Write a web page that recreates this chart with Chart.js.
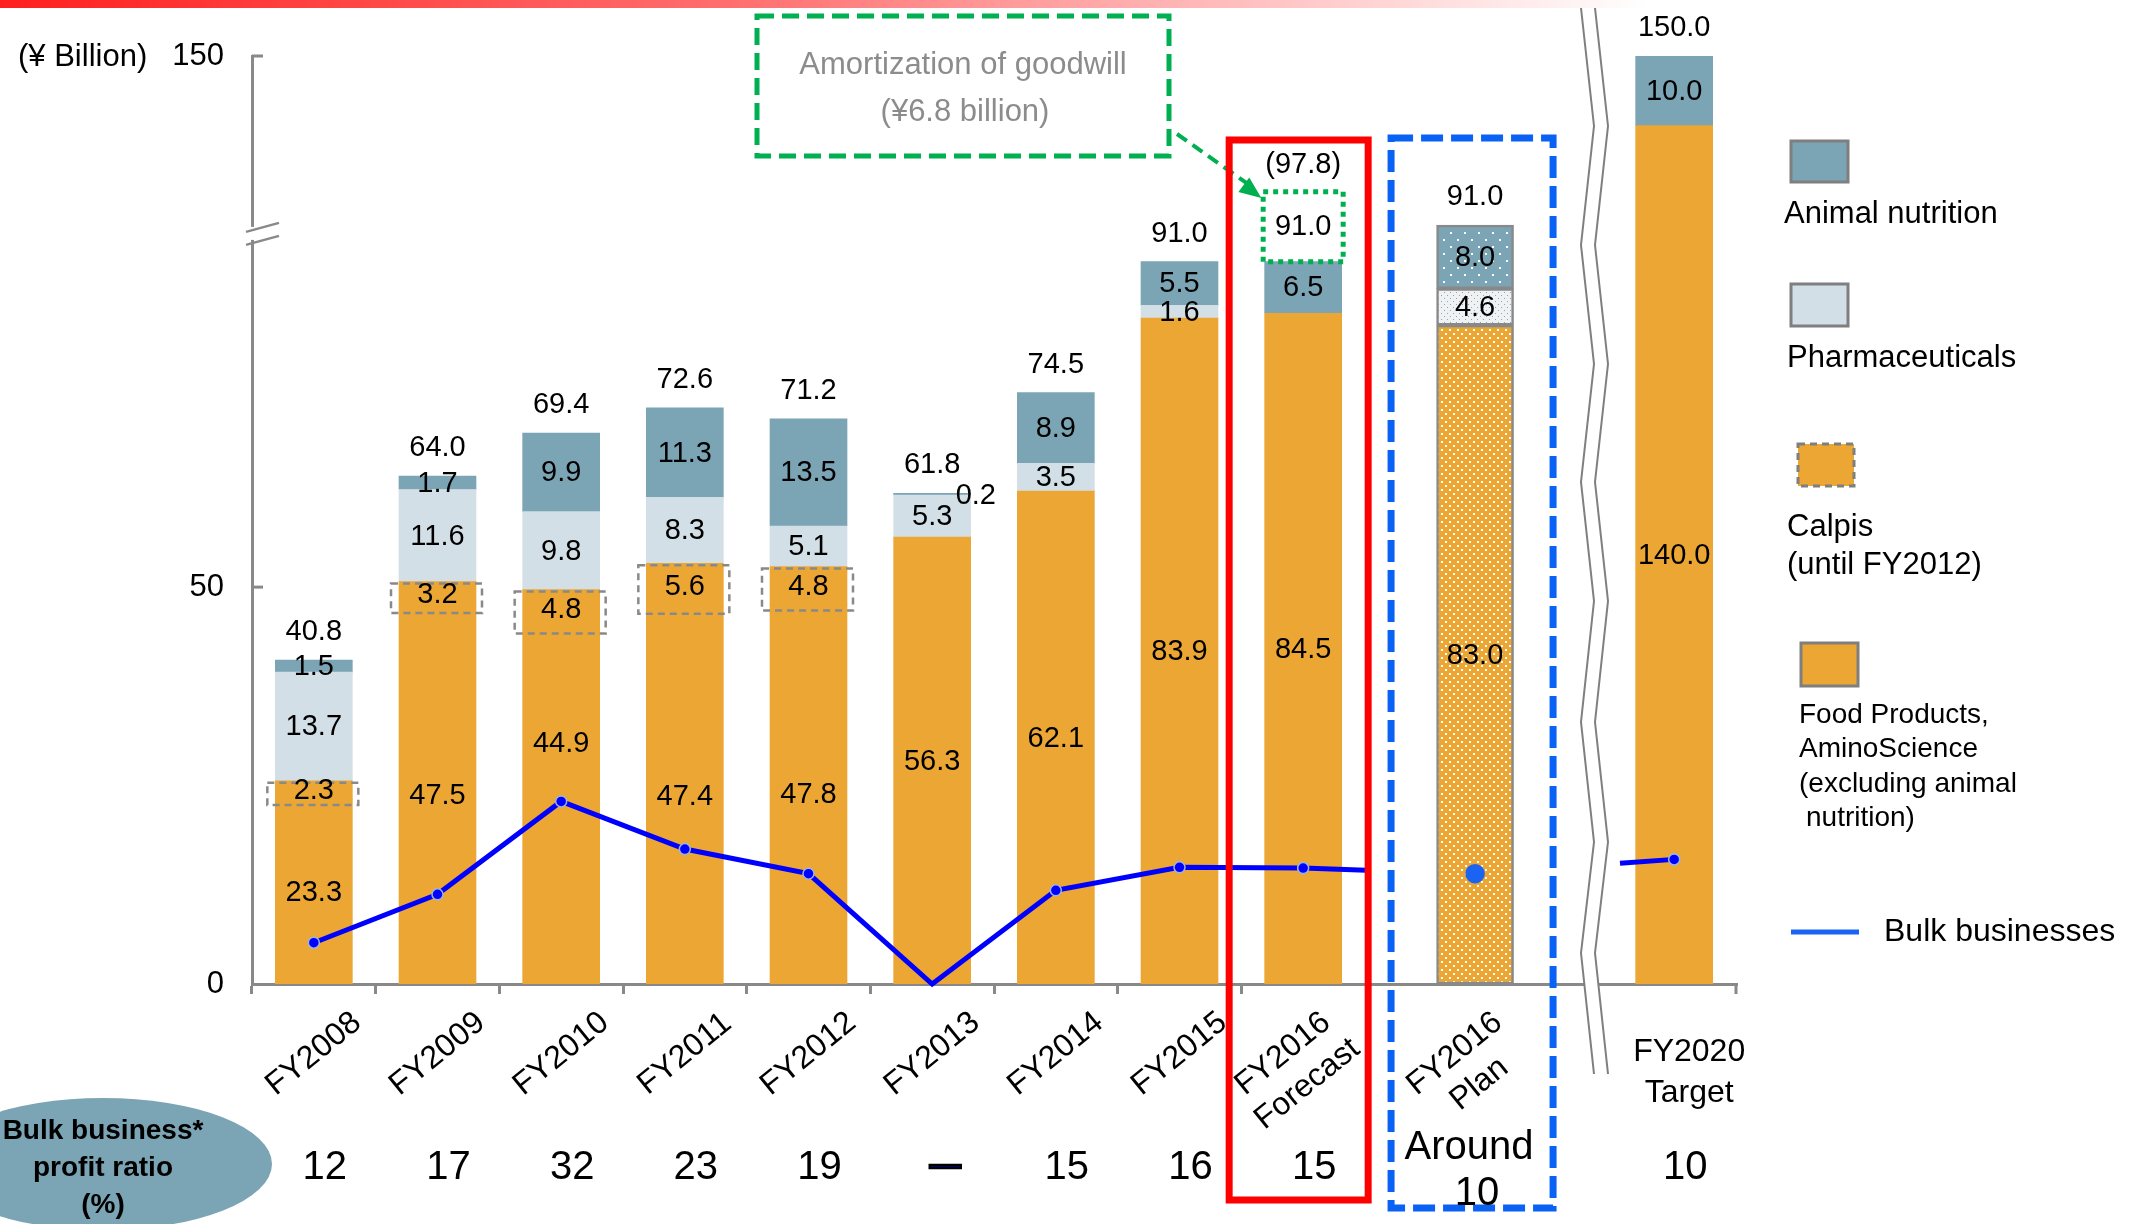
<!DOCTYPE html>
<html>
<head>
<meta charset="utf-8">
<script src="https://cdn.jsdelivr.net/npm/chart.js@4.4.1/dist/chart.umd.min.js"></script>
<style>
  html, body { margin: 0; padding: 0; background: #fff; overflow: hidden; }
  #wrap { width: 2134px; height: 1224px; }
</style>
</head>
<body>
<div id="wrap"><canvas id="chart" width="2134" height="1224"></canvas></div>
<script>
// x categories (multi-line ones are arrays)
const categories = ['FY2008', 'FY2009', 'FY2010', 'FY2011', 'FY2012', 'FY2013', 'FY2014', 'FY2015',
  ['FY2016', 'Forecast'], ['FY2016', 'Plan'], ['FY2020', 'Target']];

// segment values, ¥ billion (bottom to top)
const foodProducts = [23.3, 47.5, 44.9, 47.4, 47.8, 56.3, 62.1, 83.9, 84.5, 83.0, 140.0];
const calpis = [2.3, 3.2, 4.8, 5.6, 4.8, null, null, null, null, null, null];
const pharmaceuticals = [13.7, 11.6, 9.8, 8.3, 5.1, 5.3, 3.5, 1.6, null, 4.6, null];
const animalNutrition = [1.5, 1.7, 9.9, 11.3, 13.5, 0.2, 8.9, 5.5, 6.5, 8.0, 10.0];
const totals = ['40.8', '64.0', '69.4', '72.6', '71.2', '61.8', '74.5', '91.0', '91.0', '91.0', '150.0'];
const forecastBeforeGoodwill = '(97.8)';

// bulk businesses line
const bulkBusinesses = [5.2, 11.3, 23.0, 17.0, 13.9, 0, 11.8, 14.7, 14.6, 13.9, 15.7];

// profit ratio row under the axis
const profitRatio = ['12', '17', '32', '23', '19', '—', '15', '16', '15', ['Around', '10'], '10'];

const yTicks = [0, 50, 150];

const forecastIndex = 8;
const planIndex = 9;

const ORANGE = '#EBA633';
const SLATE = '#7BA4B4';
const MIST = '#D3DFE6';
const LINE_BLUE = '#0000FF';
const DOT_BLUE = '#1B63F2';
const GREY = '#898989';
const GREEN = '#00B050';
const SANS = '"Liberation Sans", Arial, Helvetica, sans-serif';

// ---- scales -------------------------------------------------------------

// piecewise value -> decimal mapping, the axis is broken between ~97 and ~128
const Y_KNOTS = [0, 97, 128, 150];
const Y_DEC = [0, 0.8297, 0.835, 1];
// category slots, the plan and target columns sit further out
const X_SLOTS = [0, 1, 2, 3, 4, 5, 6, 7, 8, 9.39, 11];

function interp(v, xs, ys) {
  let i = 1;
  while (i < xs.length - 1 && v > xs[i]) i++;
  return ys[i - 1] + (v - xs[i - 1]) * (ys[i] - ys[i - 1]) / (xs[i] - xs[i - 1]);
}

class BrokenLinearScale extends Chart.LinearScale {
  getPixelForValue(value) {
    if (value === null || value === undefined || isNaN(value)) return NaN;
    return this.getPixelForDecimal(interp(value, Y_KNOTS, Y_DEC));
  }
  getValueForPixel(pixel) {
    return interp(this.getDecimalForPixel(pixel), Y_DEC, Y_KNOTS);
  }
}
BrokenLinearScale.id = 'brokenLinear';
BrokenLinearScale.defaults = {};

class GapCategoryScale extends Chart.CategoryScale {
  getPixelForValue(value) {
    if (typeof value !== 'number') value = this.parse(value);
    if (value === null || value === undefined || isNaN(value)) return NaN;
    const idx = X_SLOTS.map((_, i) => i);
    const span = X_SLOTS[X_SLOTS.length - 1] + 1;
    return this.getPixelForDecimal((interp(value, idx, X_SLOTS) + 0.5) / span);
  }
}
GapCategoryScale.id = 'gapCategory';
GapCategoryScale.defaults = {};

Chart.register(BrokenLinearScale, GapCategoryScale);

// ---- fills --------------------------------------------------------------

function dotPattern(bg, dot, step, size) {
  const c = document.createElement('canvas');
  c.width = c.height = step * 2;
  const g = c.getContext('2d');
  g.fillStyle = bg;
  g.fillRect(0, 0, c.width, c.height);
  g.fillStyle = dot;
  g.fillRect(1, 1, size, size);
  g.fillRect(step + 1, step + 1, size, size);
  return g.createPattern(c, 'repeat');
}
const orangeDots = dotPattern(ORANGE, '#ffffff', 4, 2);
const slateDots = dotPattern(SLATE, '#ffffff', 7, 2);
const mistDots = dotPattern('#EEF2F4', '#98a3a8', 3, 1);

const perColumn = (normal, plan) => categories.map((_, i) => (i === planIndex ? plan : normal));

// ---- drawing helpers ----------------------------------------------------

function text(ctx, str, x, y, font, opts = {}) {
  ctx.save();
  ctx.font = font;
  ctx.fillStyle = opts.color || '#000';
  ctx.textAlign = opts.align || 'center';
  ctx.textBaseline = 'middle';
  ctx.fillText(str, x, y);
  ctx.restore();
}

function strokeLine(ctx, pts, color, width, dash) {
  ctx.save();
  ctx.strokeStyle = color;
  ctx.lineWidth = width;
  ctx.setLineDash(dash || []);
  ctx.beginPath();
  pts.forEach((p, i) => (i ? ctx.lineTo(p[0], p[1]) : ctx.moveTo(p[0], p[1])));
  ctx.stroke();
  ctx.restore();
}

function stackTop(chart, i) {
  let top = Infinity;
  [0, 1, 2, 3].forEach((di) => {
    if (chart.data.datasets[di].data[i] == null) return;
    top = Math.min(top, chart.getDatasetMeta(di).data[i].y);
  });
  return top;
}

const decorations = {
  id: 'decorations',
  beforeDraw(chart) {
    const ctx = chart.ctx;
    ctx.save();
    ctx.fillStyle = '#fff';
    ctx.fillRect(0, 0, chart.width, chart.height);
    const g = ctx.createLinearGradient(0, 0, 1650, 0);
    g.addColorStop(0, '#FF1F1F');
    g.addColorStop(0.45, '#FF7070');
    g.addColorStop(1, '#FFFFFF');
    ctx.fillStyle = g;
    ctx.fillRect(0, 0, 1650, 8);
    ctx.restore();
  },
  afterDatasetsDraw(chart) {
    const ctx = chart.ctx;
    const xs = chart.scales.x;

    // Calpis: dashed frames around the segments
    chart.getDatasetMeta(1).data.forEach((el, i) => {
      if (calpis[i] == null) return;
      ctx.save();
      ctx.setLineDash([7, 5]);
      ctx.strokeStyle = GREY;
      ctx.lineWidth = 2.5;
      ctx.strokeRect(el.x - el.width / 2 - 8, el.y + 2, el.width + 14, el.base - el.y + 4);
      ctx.restore();
    });

    // bulk line: the stubs around the plan column
    const lm = chart.getDatasetMeta(4);
    const p8 = lm.data[forecastIndex], p9 = lm.data[planIndex], p10 = lm.data[10];
    const along = (a, b, x) => [x, a.y + (b.y - a.y) * (x - a.x) / (b.x - a.x)];
    const fx = xs.getPixelForValue(forecastIndex);
    strokeLine(ctx, [[p8.x, p8.y], along(p8, p9, fx + 63)], LINE_BLUE, 5);
    strokeLine(ctx, [along(p9, p10, 1620), [p10.x, p10.y]], LINE_BLUE, 5);
    p8.draw(ctx);
    p10.draw(ctx);

    // segment values (moved up when the bulk line runs through them)
    const segFont = `29px ${SANS}`;
    [0, 1, 2, 3].forEach((di) => {
      const vals = chart.data.datasets[di].data;
      chart.getDatasetMeta(di).data.forEach((el, i) => {
        const v = vals[i];
        if (v == null) return;
        if (v < 1) {
          text(ctx, v.toFixed(1), el.x + el.width / 2 - 15, el.y + 3, segFont, { align: 'left' });
          return;
        }
        let y = (el.y + el.base) / 2 + 1;
        const pt = lm.data[i];
        if (pt && Math.abs(pt.y - y) < 30) y = pt.y - 57;
        text(ctx, v.toFixed(1), el.x, y, segFont);
      });
    });

    // totals above the bars
    totals.forEach((t, i) => {
      const top = stackTop(chart, i);
      const x = xs.getPixelForValue(i);
      if (i === forecastIndex) {
        const boxTop = top - 70;
        ctx.save();
        ctx.setLineDash([5, 5]);
        ctx.strokeStyle = GREEN;
        ctx.lineWidth = 5;
        ctx.strokeRect(x - 40, boxTop, 80, 70);
        ctx.restore();
        text(ctx, t, x, top - 35, segFont);
        text(ctx, forecastBeforeGoodwill, x, boxTop - 27, segFont);
        // dashed arrow from the note
        const end = [x - 45, boxTop + 4];
        strokeLine(ctx, [[1177, 134], [end[0] - 5, end[1] - 8]], GREEN, 4, [12, 7]);
        ctx.save();
        ctx.fillStyle = GREEN;
        const ang = Math.atan2(end[1] - 134, end[0] - 1177);
        ctx.translate(end[0], end[1]);
        ctx.rotate(ang);
        ctx.beginPath();
        ctx.moveTo(4, 0);
        ctx.lineTo(-18, -9);
        ctx.lineTo(-18, 9);
        ctx.closePath();
        ctx.fill();
        ctx.restore();
      } else {
        text(ctx, t, x, top - 28, segFont);
      }
    });
  },
  afterDraw(chart) {
    const ctx = chart.ctx;
    const xs = chart.scales.x, ys = chart.scales.y;
    const area = chart.chartArea;

    // inward y tick marks + closing x tick
    yTicks.slice(1).forEach((v) => {
      const y = ys.getPixelForValue(v);
      strokeLine(ctx, [[area.left, y], [area.left + 11, y]], GREY, 3);
    });
    strokeLine(ctx, [[area.right, area.bottom], [area.right, area.bottom + 10]], GREY, 3);

    // y axis break
    const by = ys.getPixelForValue(95) + 4;
    ctx.save();
    ctx.fillStyle = '#fff';
    ctx.fillRect(area.left - 4, by - 7, 8, 13);
    ctx.restore();
    strokeLine(ctx, [[area.left - 6, by - 2], [area.left + 27, by - 11]], GREY, 2.5);
    strokeLine(ctx, [[area.left - 6, by + 11], [area.left + 27, by + 2]], GREY, 2.5);

    // vertical zigzag break before the target column
    const zy = [8, 126, 245, 364, 482, 601, 722, 842, 953, 1074];
    const left = zy.map((y, k) => [k % 2 ? 1594 : 1581, y]);
    const right = left.map(([x, y]) => [x + 14, y]);
    ctx.save();
    ctx.fillStyle = '#fff';
    ctx.beginPath();
    left.forEach((p, k) => (k ? ctx.lineTo(p[0], p[1]) : ctx.moveTo(p[0], p[1])));
    right.slice().reverse().forEach((p) => ctx.lineTo(p[0], p[1]));
    ctx.closePath();
    ctx.fill();
    ctx.restore();
    strokeLine(ctx, left, '#7f7f7f', 2);
    strokeLine(ctx, right, '#7f7f7f', 2);

    // forecast / plan frames
    const fx = xs.getPixelForValue(forecastIndex);
    ctx.save();
    ctx.strokeStyle = '#FF0000';
    ctx.lineWidth = 7;
    ctx.strokeRect(fx - 74, 140, 139, 1060);
    const px = xs.getPixelForValue(planIndex);
    ctx.strokeStyle = '#0A62F5';
    ctx.setLineDash([22, 8]);
    ctx.strokeRect(px - 84, 138, 162, 1070);
    ctx.restore();

    // goodwill note
    ctx.save();
    ctx.strokeStyle = GREEN;
    ctx.lineWidth = 5;
    ctx.setLineDash([17, 8]);
    ctx.strokeRect(757, 16, 412, 140);
    ctx.restore();
    text(ctx, 'Amortization of goodwill', 963, 65, `31px ${SANS}`, { color: '#8c8c8c' });
    text(ctx, '(¥6.8 billion)', 965, 112, `31px ${SANS}`, { color: '#8c8c8c' });

    // unit
    text(ctx, '(¥ Billion)', 18, 57, `31px ${SANS}`, { align: 'left' });

    // x labels
    const ROT = -39 * Math.PI / 180;
    categories.forEach((label, i) => {
      const bx = xs.getPixelForValue(i);
      const lines = Array.isArray(label) ? label : [label];
      if (i === categories.length - 1) {
        lines.forEach((t, k) => text(ctx, t, bx + 15, 1052 + k * 41, `32px ${SANS}`));
        return;
      }
      const n = lines.length;
      ctx.save();
      ctx.translate(bx - (n > 1 ? 8 : 0), 1054 + (n - 1) * 15);
      ctx.rotate(ROT);
      ctx.font = `32px ${SANS}`;
      ctx.fillStyle = '#000';
      ctx.textAlign = 'center';
      ctx.textBaseline = 'middle';
      lines.forEach((t, k) => ctx.fillText(t, 0, (k - (n - 1) / 2) * 39));
      ctx.restore();
    });

    // profit ratio row
    ctx.save();
    ctx.fillStyle = SLATE;
    ctx.beginPath();
    ctx.ellipse(103, 1164, 169, 66, 0, 0, Math.PI * 2);
    ctx.fill();
    ctx.restore();
    const bold = `bold 28px ${SANS}`;
    text(ctx, 'Bulk business*', 103, 1131, bold);
    text(ctx, 'profit ratio', 103, 1168, bold);
    text(ctx, '(%)', 103, 1205, bold);
    profitRatio.forEach((r, i) => {
      const bx = xs.getPixelForValue(i);
      if (Array.isArray(r)) {
        text(ctx, r[0], bx - 6, 1148, `40px ${SANS}`);
        text(ctx, r[1], bx + 2, 1194, `40px ${SANS}`);
      } else if (r === '—') {
        ctx.save();
        ctx.strokeStyle = '#000';
        ctx.lineWidth = 2.5;
        ctx.font = `bold 31px ${SANS}`;
        ctx.textAlign = 'center';
        ctx.textBaseline = 'middle';
        ctx.fillText(r, bx + 13, 1166);
        ctx.strokeText(r, bx + 13, 1166);
        ctx.restore();
      } else {
        text(ctx, r, bx + 11, 1168, `40px ${SANS}`);
      }
    });

    // legend
    const swatch = (x, y, w, h, fill, dashed) => {
      ctx.save();
      ctx.fillStyle = fill;
      ctx.fillRect(x, y, w, h);
      ctx.strokeStyle = '#7f7f7f';
      ctx.lineWidth = 3;
      if (dashed) ctx.setLineDash([7, 5]);
      ctx.strokeRect(x, y, w, h);
      ctx.restore();
    };
    const lf = `31px ${SANS}`;
    swatch(1791, 141, 57, 41, SLATE);
    text(ctx, 'Animal nutrition', 1784, 214, lf, { align: 'left' });
    swatch(1791, 284, 57, 42, MIST);
    text(ctx, 'Pharmaceuticals', 1787, 358, lf, { align: 'left' });
    swatch(1798, 444, 56, 42, ORANGE, true);
    text(ctx, 'Calpis', 1787, 527, lf, { align: 'left' });
    text(ctx, '(until FY2012)', 1787, 565, lf, { align: 'left' });
    swatch(1801, 643, 57, 43, ORANGE);
    const sf = `28px ${SANS}`;
    text(ctx, 'Food Products,', 1799, 715, sf, { align: 'left' });
    text(ctx, 'AminoScience', 1799, 749, sf, { align: 'left' });
    text(ctx, '(excluding animal', 1799, 784, sf, { align: 'left' });
    text(ctx, 'nutrition)', 1806, 818, sf, { align: 'left' });
    strokeLine(ctx, [[1791, 932], [1859, 932]], DOT_BLUE, 5);
    text(ctx, 'Bulk businesses', 1884, 932, `32px ${SANS}`, { align: 'left' });
  },
};

// ---- chart --------------------------------------------------------------

const barBase = {
  stack: 'segments',
  order: 1,
  borderColor: GREY,
  borderWidth: perColumn(0, 2.5),
  borderSkipped: false,
  barThickness: 77,
};

new Chart(document.getElementById('chart'), {
  type: 'bar',
  data: {
    labels: categories,
    datasets: [
      { ...barBase, label: 'Food Products, AminoScience (excluding animal nutrition)', data: foodProducts,
        backgroundColor: perColumn(ORANGE, orangeDots) },
      { ...barBase, label: 'Calpis (until FY2012)', data: calpis, backgroundColor: ORANGE, borderWidth: 0 },
      { ...barBase, label: 'Pharmaceuticals', data: pharmaceuticals, backgroundColor: perColumn(MIST, mistDots) },
      { ...barBase, label: 'Animal nutrition', data: animalNutrition, backgroundColor: perColumn(SLATE, slateDots) },
      {
        type: 'line',
        label: 'Bulk businesses',
        data: bulkBusinesses,
        stack: 'bulk',
        order: 0,
        clip: false,
        borderColor: LINE_BLUE,
        borderWidth: 5,
        tension: 0,
        pointRadius: categories.map((_, i) => (i === planIndex ? 9 : bulkBusinesses[i] === 0 ? 0 : 5.5)),
        pointBackgroundColor: categories.map((_, i) => (i === planIndex ? DOT_BLUE : LINE_BLUE)),
        pointBorderColor: categories.map((_, i) => (i === planIndex ? DOT_BLUE : '#9db4e0')),
        pointBorderWidth: 1.5,
        segment: {
          borderColor: (c) => (c.p0DataIndex >= forecastIndex ? 'rgba(0,0,0,0)' : LINE_BLUE),
        },
      },
    ],
  },
  options: {
    responsive: false,
    animation: false,
    events: [],
    layout: { padding: { left: 152, right: 398, top: 56, bottom: 230 } },
    plugins: { legend: { display: false }, tooltip: { enabled: false } },
    scales: {
      x: {
        type: 'gapCategory',
        stacked: true,
        offset: true,
        grid: {
          display: true,
          drawOnChartArea: false,
          drawTicks: true,
          tickLength: 10,
          lineWidth: 3,
          offset: true,
          color: (c) => (c.index >= planIndex ? 'rgba(0,0,0,0)' : GREY),
        },
        border: { display: true, color: GREY, width: 3 },
        ticks: { display: false },
        afterFit: (s) => { s.height = 10; },
      },
      y: {
        type: 'brokenLinear',
        stacked: true,
        min: 0,
        max: 150,
        grid: { display: false },
        border: { display: true, color: GREY, width: 3 },
        ticks: {
          font: { family: SANS, size: 31 },
          color: '#000',
          padding: 20,
          callback: (v) => String(v),
        },
        afterBuildTicks: (s) => { s.ticks = yTicks.map((v) => ({ value: v })); },
        afterFit: (s) => { s.width = 100; },
      },
    },
  },
  plugins: [decorations],
});
</script>
</body>
</html>
